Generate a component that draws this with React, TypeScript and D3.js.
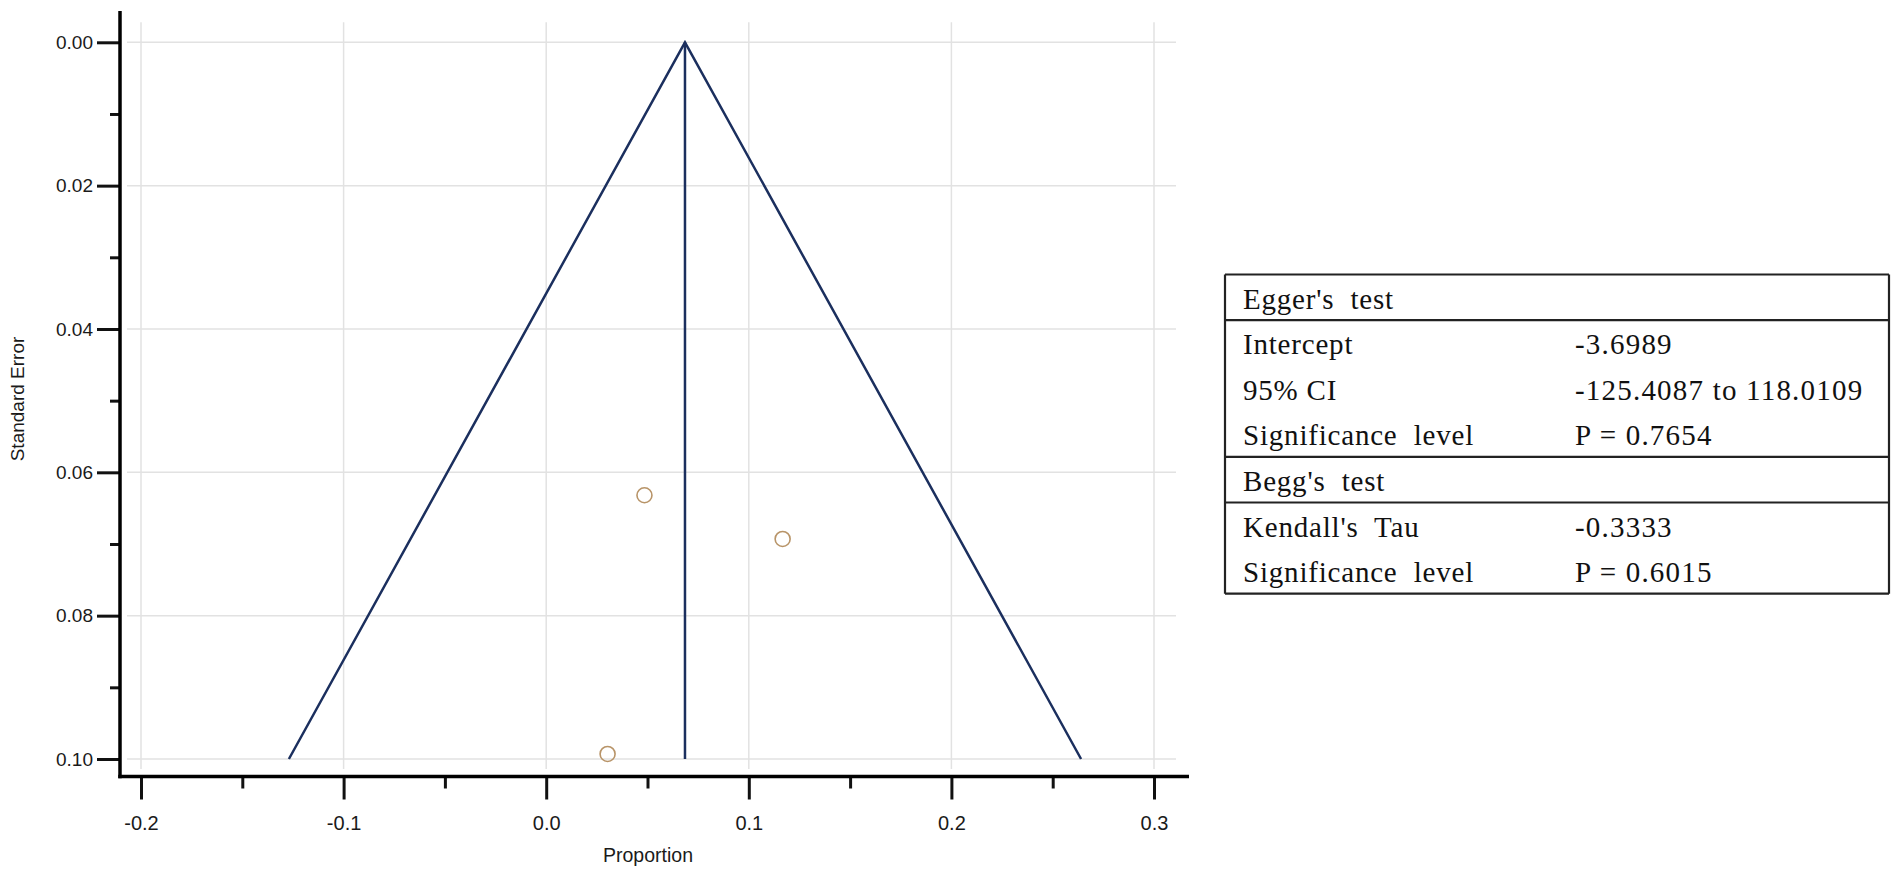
import { useEffect, useRef } from 'react'
import * as d3 from 'd3'

// study points
const studyProportion = [0.0485, 0.1167, 0.0303]
const studySE = [0.0632, 0.0693, 0.0993]

// funnel outline: left edge, apex, right edge
const funnelX = [-0.127, 0.0685, 0.264]
const funnelY = [0.1, 0, 0.1]
const pooledEstimate = 0.0685

const xMajorTicks = [-0.2, -0.1, 0.0, 0.1, 0.2, 0.3]
const xMinorTicks = [-0.15, -0.05, 0.05, 0.15, 0.25]
const yMajorTicks = [0, 0.02, 0.04, 0.06, 0.08, 0.1]
const yMinorTicks = [0.01, 0.03, 0.05, 0.07, 0.09]

// bias test table
const eggerTitle = "Egger's  test"
const eggerLabels = ['Intercept', '95% CI', 'Significance  level']
const eggerValues = ['-3.6989', '-125.4087 to 118.0109', 'P = 0.7654']
const beggTitle = "Begg's  test"
const beggLabels = ["Kendall's  Tau", 'Significance  level']
const beggValues = ['-0.3333', 'P = 0.6015']

const W = 1897
const H = 875
const SANS = '"Liberation Sans", Arial, sans-serif'
const SERIF = '"Liberation Serif", "Times New Roman", serif'
const NAVY = '#1b2f5e'
const GRID = '#e2e2e2'

// plain hyphen instead of d3's unicode minus
const fmt = (spec: string) => {
  const f = d3.format(spec)
  return (d: d3.NumberValue) => f(d).replace('\u2212', '-')
}

function App() {
  const ref = useRef<SVGSVGElement | null>(null)

  useEffect(() => {
    if (!ref.current) return
    const svg = d3.select(ref.current)
    svg.selectAll('*').remove()

    const x = d3.scaleLinear().domain([-0.2, 0.3]).range([141, 1154])
    const y = d3.scaleLinear().domain([0, 0.1]).range([42.3, 759])

    const axisX = 120
    const axisY = 776.5

    // gridlines
    const grid = svg.append('g')
    grid.selectAll('.vgrid')
      .data(xMajorTicks)
      .enter()
      .append('line')
      .attr('x1', d => x(d))
      .attr('x2', d => x(d))
      .attr('y1', y(0) - 20)
      .attr('y2', y(0.1) + 10)
      .attr('stroke', GRID)
      .attr('stroke-width', 1.5)
    grid.selectAll('.hgrid')
      .data(yMajorTicks)
      .enter()
      .append('line')
      .attr('x1', x(-0.2) - 14)
      .attr('x2', x(0.3) + 22)
      .attr('y1', d => y(d))
      .attr('y2', d => y(d))
      .attr('stroke', GRID)
      .attr('stroke-width', 1.5)

    // funnel
    const line = d3.line<number>()
      .x((d, i) => x(funnelX[i]))
      .y(d => y(d))
    svg.append('path')
      .attr('d', line(funnelY))
      .attr('fill', 'none')
      .attr('stroke', NAVY)
      .attr('stroke-width', 2.5)
      .attr('stroke-linejoin', 'miter')
    svg.append('line')
      .attr('x1', x(pooledEstimate))
      .attr('x2', x(pooledEstimate))
      .attr('y1', y(0))
      .attr('y2', y(0.1))
      .attr('stroke', NAVY)
      .attr('stroke-width', 2.5)

    // studies
    svg.selectAll('.study')
      .data(studyProportion)
      .enter()
      .append('circle')
      .attr('cx', d => x(d))
      .attr('cy', (d, i) => y(studySE[i]))
      .attr('r', 7.5)
      .attr('fill', 'none')
      .attr('stroke', '#b89468')
      .attr('stroke-width', 1.6)

    // axes: minor ticks first, then major ticks with labels
    const yMinor = svg.append('g')
      .attr('transform', `translate(${axisX},0)`)
      .call(d3.axisLeft(y).tickValues(yMinorTicks).tickSize(10).tickFormat(() => ''))
    const yMajor = svg.append('g')
      .attr('transform', `translate(${axisX},0)`)
      .call(d3.axisLeft(y).tickValues(yMajorTicks).tickSize(23).tickPadding(4).tickFormat(fmt('.2f')))
    const xMinor = svg.append('g')
      .attr('transform', `translate(0,${axisY})`)
      .call(d3.axisBottom(x).tickValues(xMinorTicks).tickSize(12).tickFormat(() => ''))
    const xMajor = svg.append('g')
      .attr('transform', `translate(0,${axisY})`)
      .call(d3.axisBottom(x).tickValues(xMajorTicks).tickSize(23).tickPadding(16).tickFormat(fmt('.1f')))

    for (const g of [yMinor, yMajor, xMinor, xMajor]) {
      g.select('.domain').remove()
      g.selectAll('.tick line').attr('stroke', '#111').attr('stroke-width', 3)
      g.selectAll('.tick text')
        .attr('fill', '#1a1a1a')
        .attr('font-family', SANS)
        .attr('font-size', 19)
    }
    xMajor.selectAll('.tick text').attr('font-size', 20)

    // axis lines
    svg.append('line')
      .attr('x1', axisX).attr('x2', axisX)
      .attr('y1', 11).attr('y2', axisY + 1.75)
      .attr('stroke', '#000').attr('stroke-width', 3.5)
    svg.append('line')
      .attr('x1', axisX - 1.75).attr('x2', x(0.3) + 35)
      .attr('y1', axisY).attr('y2', axisY)
      .attr('stroke', '#000').attr('stroke-width', 3.5)

    // axis titles
    svg.append('text')
      .attr('transform', 'rotate(-90)')
      .attr('x', -399)
      .attr('y', 24)
      .attr('text-anchor', 'middle')
      .attr('font-family', SANS)
      .attr('font-size', 19)
      .attr('fill', '#1a1a1a')
      .text('Standard Error')
    svg.append('text')
      .attr('x', 648)
      .attr('y', 862)
      .attr('text-anchor', 'middle')
      .attr('font-family', SANS)
      .attr('font-size', 19.5)
      .attr('fill', '#1a1a1a')
      .text('Proportion')

    // table
    const left = 1225
    const right = 1889
    const col1 = 1243
    const col2 = 1575
    const rowH = 45.6
    const top = 274.5
    const rows = [
      { label: eggerTitle, value: '', header: true },
      ...eggerLabels.map((l, i) => ({ label: l, value: eggerValues[i], header: false })),
      { label: beggTitle, value: '', header: true },
      ...beggLabels.map((l, i) => ({ label: l, value: beggValues[i], header: false })),
    ]
    const table = svg.append('g')
    const rules: number[] = [top]
    rows.forEach((r, i) => {
      const rt = top + i * rowH
      if (r.header) {
        if (i > 0) rules.push(rt)
        rules.push(rt + rowH)
      }
      const base = rt + 34
      table.append('text')
        .attr('x', col1).attr('y', base)
        .attr('font-family', SERIF).attr('font-size', 29)
        .attr('letter-spacing', 0.8)
        .style('white-space', 'pre')
        .attr('fill', '#111')
        .text(r.label)
      if (r.value) {
        table.append('text')
          .attr('x', col2).attr('y', base)
          .attr('font-family', SERIF).attr('font-size', 29)
          .attr('letter-spacing', 1.2)
          .style('white-space', 'pre')
          .attr('fill', '#111')
          .text(r.value)
      }
    })
    const bottom = top + rows.length * rowH
    rules.push(bottom)
    table.selectAll('.rule')
      .data(Array.from(new Set(rules)))
      .enter()
      .append('line')
      .attr('x1', left).attr('x2', right)
      .attr('y1', d => d).attr('y2', d => d)
      .attr('stroke', '#222').attr('stroke-width', 2.2)
    for (const xx of [left, right]) {
      table.append('line')
        .attr('x1', xx).attr('x2', xx)
        .attr('y1', top).attr('y2', bottom)
        .attr('stroke', '#222').attr('stroke-width', 2.2)
    }
  }, [])

  return (
    <svg
      ref={ref}
      width={W}
      height={H}
      style={{ position: 'absolute', left: 0, top: 0, background: '#fff' }}
    />
  )
}

export default App
